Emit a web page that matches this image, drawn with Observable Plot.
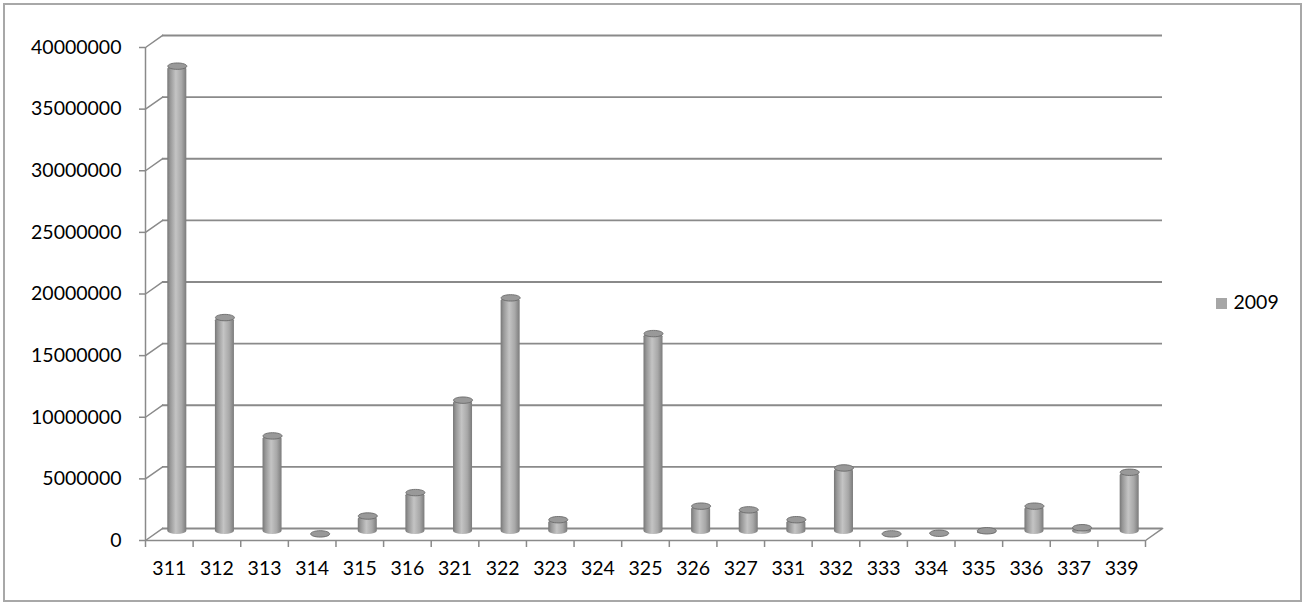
<!DOCTYPE html>
<html><head><meta charset="utf-8">
<script src="https://cdn.jsdelivr.net/npm/d3@7"></script>
<script src="https://cdn.jsdelivr.net/npm/@observablehq/plot@0.6"></script>
<style>
body{margin:0;background:#fff;}
#wrap{position:relative;width:1306px;height:606px;overflow:hidden;}
#border{position:absolute;left:3px;top:3px;width:1295px;height:595px;border:2px solid #a8a8a8;pointer-events:none;}
svg text{font-family:Lato,"Open Sans",sans-serif;}
</style></head><body><div id="wrap"><div id="chart"></div><div id="border"></div></div>
<script>
const categories = ["311","312","313","314","315","316","321","322","323","324","325","326","327","331","332","333","334","335","336","337","339"];
const values2009 = [38000000,17600000,8000000,50000,1500000,3400000,10900000,19200000,1200000,0,16300000,2300000,2000000,1200000,5400000,50000,100000,300000,2300000,550000,5050000];
const yTicks = [0,5000000,10000000,15000000,20000000,25000000,30000000,35000000,40000000];
const seriesName = "2009";

const n = categories.length;
const data = categories.map((c, i) => ({cat: c, i, v: values2009[i]}));
const shown = data.filter(d => d.v > 0);
const gridColor = "#8a8a8a";

const lineShape = {draw(ctx, l) { ctx.moveTo(0, 0); ctx.lineTo(0, -l); }};
const ellipse = {draw(ctx) {
  const a = 9.5, b = 3.2, k = 0.5523;
  ctx.moveTo(-a, 0);
  ctx.bezierCurveTo(-a, -b*k, -a*k, -b, 0, -b);
  ctx.bezierCurveTo(a*k, -b, a, -b*k, a, 0);
  ctx.bezierCurveTo(a, b*k, a*k, b, 0, b);
  ctx.bezierCurveTo(-a*k, b, -a, b*k, -a, 0);
  ctx.closePath();
}};

const chart = Plot.plot({
  width: 1306, height: 606,
  marginLeft: 145, marginRight: 161, marginTop: 47, marginBottom: 66,
  style: {fontFamily: "Lato, 'Open Sans', sans-serif", fontSize: "19px", color: "#000", background: "transparent"},
  x: {type: "linear", domain: [0, n], axis: null},
  y: {domain: [0, 40000000], axis: null},
  marks: [
    // back-wall gridlines
    Plot.ruleY(yTicks, {x1: 0, x2: n, dx: 17, dy: -12, stroke: gridColor, strokeWidth: 1.8}),
    // side-wall diagonals
    Plot.vector(yTicks, {x: 0, y: d => d, length: 21, rotate: 54.8, anchor: "start", shape: lineShape, stroke: gridColor, strokeWidth: 1.5}),
    Plot.vector([0], {x: n, y: d => d, length: 21, rotate: 54.8, anchor: "start", shape: lineShape, stroke: gridColor, strokeWidth: 1.5}),
    // front floor edge and value axis line
    Plot.ruleY([0], {x1: 0, x2: n, stroke: gridColor, strokeWidth: 1.5}),
    Plot.ruleX([0], {y1: 0, y2: 40000000, stroke: gridColor, strokeWidth: 1.5}),
    // ticks
    Plot.axisY({ticks: yTicks, tickSize: 6, tickFormat: () => "", label: null, stroke: gridColor, strokeWidth: 1.5}),
    Plot.text(yTicks, {x: 0, y: d => d, dx: -24, textAnchor: "end", text: d => d3.format("d")(d), fill: "#000", fontSize: 19.5}),
    Plot.axisX({ticks: d3.range(0, n + 1), tickSize: 7, tickFormat: () => "", label: null, stroke: gridColor, strokeWidth: 1.5}),
    Plot.text(data, {x: d => d.i + 0.5, y: 0, dy: 28, text: "cat", fill: "#000", fontSize: 19.5}),
    // cylinders
    Plot.rectY(shown, {x1: "i", x2: d => d.i + 1, y1: 0, y2: "v", insetLeft: 22.3, insetRight: 6.3, dy: -6, fill: "url(#cyl)", rx: 9.5, ry: 3.2}),
    Plot.dot(shown, {x: d => d.i + 0.5, y: "v", dx: 8, dy: -6, symbol: ellipse, fill: "#999999", stroke: "#6a6a6a", strokeWidth: 0.9}),
    // legend
    Plot.dot([seriesName], {frameAnchor: "right", dx: 76, dy: 9.5, symbol: "square", r: 6.2, fill: "#a6a6a6"}),
    Plot.text([seriesName], {frameAnchor: "right", dx: 88, dy: 8.5, text: d => d, textAnchor: "start", fill: "#000", fontSize: 19.5})
  ]
});

const defs = d3.select(chart).insert("defs", ":first-child");
const g = defs.append("linearGradient").attr("id", "cyl").attr("x1", 0).attr("x2", 1).attr("y1", 0).attr("y2", 0);
[[0, "#777777"], [0.15, "#979797"], [0.45, "#c4c4c4"], [0.75, "#a8a8a8"], [1, "#7b7b7b"]]
  .forEach(([o, c]) => g.append("stop").attr("offset", o).attr("stop-color", c));

document.getElementById("chart").append(chart);
</script>
</body></html>
